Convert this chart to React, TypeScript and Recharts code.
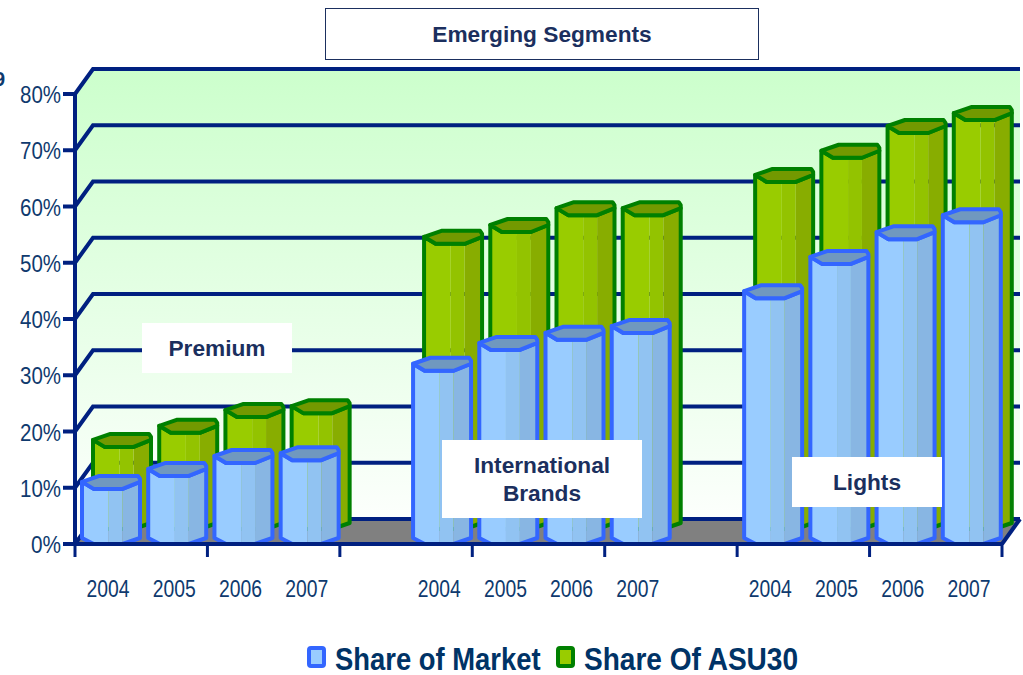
import React from 'react';
import {
  BarChart,
  Bar,
  XAxis,
  YAxis,
  CartesianGrid,
  Legend,
  ReferenceArea,
} from 'recharts';

const YEARS = ['2004', '2005', '2006', '2007', '', '2004', '2005', '2006', '2007', '', '2004', '2005', '2006', '2007'];
const SHARE_OF_MARKET = [9.8, 12.1, 14.4, 14.9, null, 30.8, 34.5, 36.3, 37.5, null, 43.7, 49.8, 54.2, 57.2];
const SHARE_OF_ASU30 = [14.6, 17.1, 19.9, 20.6, null, 50.7, 52.8, 55.8, 55.8, null, 61.7, 66.0, 70.4, 72.7];
const Y_TICKS = [0, 10, 20, 30, 40, 50, 60, 70, 80];

const chartData = YEARS.map((year, i) => ({
  year,
  market: SHARE_OF_MARKET[i],
  asu30: SHARE_OF_ASU30[i],
}));

const NAVY = '#002080';
const TEXT = '#0f3a6e';
const DEPTH_X = 18;
const DEPTH_Y = 25;
const SLOT_W = 927 / 14;

const BLUE = { stroke: '#3366ff', strips: ['#99ccff', '#91c3f2', '#88b6e3'], cap: '#7098bf' };
const GREEN = { stroke: '#008000', strips: ['#99cc00', '#93c300', '#88ad00'], cap: '#739900' };

// fake 3D wall + floor, drawn behind everything
const Wall = ({ x, y, width, height }: any) => {
  const bottom = y + height;
  const right = x + width;
  return (
    <g>
      <defs>
        <linearGradient id="wallFill" x1="0" y1="0" x2="0" y2="1">
          <stop offset="0%" stopColor="#ccffcc" />
          <stop offset="100%" stopColor="#ffffff" />
        </linearGradient>
      </defs>
      <path
        d={`M${x},${y} L${x + DEPTH_X},${y - DEPTH_Y} L${right + DEPTH_X},${y - DEPTH_Y} L${right + DEPTH_X},${bottom - DEPTH_Y} L${x + DEPTH_X},${bottom - DEPTH_Y} L${x},${bottom} Z`}
        fill="url(#wallFill)"
      />
      <path
        d={`M${x},${bottom} L${x + DEPTH_X},${bottom - DEPTH_Y} L${right + DEPTH_X},${bottom - DEPTH_Y} L${right},${bottom} Z`}
        fill="#808080"
      />
    </g>
  );
};

const GridLine = ({ x1, y1, x2 }: any) => (
  <path
    d={`M${x1},${y1} L${x1 + DEPTH_X},${y1 - DEPTH_Y} L${x2 + DEPTH_X},${y1 - DEPTH_Y}`}
    fill="none"
    stroke={NAVY}
    strokeWidth={4}
  />
);

const Column = ({ x, y, width, height, colors, dx, dy }: any) => {
  if (!height || height <= 0) return null;
  const left = x + dx;
  const top = y + dy;
  const base = y + height + dy;
  const w = width;
  const fl = left + w * 0.2;
  const fr = left + w * 0.7;
  const mid = left + w * 0.46;
  const r = left + w;
  return (
    <g>
      <path
        d={`M${left},${top - 7} L${fl},${top} L${mid},${top} L${mid},${base} L${fl},${base} L${left},${base - 6} Z`}
        fill={colors.strips[0]}
      />
      <rect x={mid} y={top} width={fr - mid} height={base - top} fill={colors.strips[1]} />
      <path
        d={`M${fr},${top} L${r},${top - 7} L${r},${base - 6} L${fr},${base} Z`}
        fill={colors.strips[2]}
      />
      <path
        d={`M${left},${top - 7} L${fl},${top} L${fr},${top} L${r},${top - 7} L${r},${base - 6} L${fr},${base} L${fl},${base} L${left},${base - 6} Z`}
        fill="none"
        stroke={colors.stroke}
        strokeWidth={4}
        strokeLinejoin="round"
      />
      <path
        d={`M${left},${top - 7} L${left + w * 0.3},${top - 13} L${r - 2},${top - 13} L${r},${top - 10} L${r},${top - 7} L${fr},${top} L${fl},${top} Z`}
        fill={colors.cap}
        stroke={colors.stroke}
        strokeWidth={4}
        strokeLinejoin="round"
      />
    </g>
  );
};

const YTick = ({ x, y, payload }: any) => (
  <text
    x={x}
    y={y + 9}
    textAnchor="end"
    fontFamily="Liberation Sans"
    fontSize={24}
    fill={TEXT}
    textLength={payload.value === 0 ? 30 : 41}
    lengthAdjust="spacingAndGlyphs"
  >
    {`${payload.value}%`}
  </text>
);

const XTick = ({ x, index }: any) => {
  const tickTop = 544;
  return (
    <g>
      {index % 2 === 0 && (
        <line x1={x - SLOT_W / 2} x2={x - SLOT_W / 2} y1={tickTop} y2={tickTop + 13} stroke={NAVY} strokeWidth={3} />
      )}
      {index === YEARS.length - 1 && (
        <g>
          <line x1={x + SLOT_W / 2} x2={x + SLOT_W / 2} y1={tickTop} y2={tickTop + 13} stroke={NAVY} strokeWidth={3} />
          <line
            x1={x + SLOT_W / 2}
            x2={x + SLOT_W / 2 + DEPTH_X}
            y1={tickTop}
            y2={tickTop - DEPTH_Y}
            stroke={NAVY}
            strokeWidth={4}
          />
        </g>
      )}
      {YEARS[index] !== '' && (
        <text
          x={x}
          y={597}
          textAnchor="middle"
          fontFamily="Liberation Sans"
          fontSize={24}
          fill={TEXT}
          textLength={43}
          lengthAdjust="spacingAndGlyphs"
        >
          {YEARS[index]}
        </text>
      )}
    </g>
  );
};

// squeezed with a transform, the original legend text is condensed
const LegendKey = ({ colors, label, x, squeeze }: any) => (
  <g>
    <rect x={x + 2} y={6} width={15} height={18} rx={2} fill={colors.strips[0]} stroke={colors.stroke} strokeWidth={4} />
    <text
      transform={`translate(${x + 28},28) scale(${squeeze},1)`}
      fontFamily="Liberation Sans"
      fontWeight="bold"
      fontSize={32}
      fill="#003366"
    >
      {label}
    </text>
  </g>
);

const ChartLegend = () => (
  <svg width={560} height={36} style={{ display: 'block' }}>
    <LegendKey colors={BLUE} label="Share of Market" x={0} squeeze={0.857} />
    <LegendKey colors={GREEN} label="Share Of ASU30" x={249} squeeze={0.877} />
  </svg>
);

const boxStyle: React.CSSProperties = {
  position: 'absolute',
  background: '#ffffff',
  display: 'flex',
  alignItems: 'center',
  justifyContent: 'center',
  textAlign: 'center',
  fontFamily: 'Liberation Sans',
  fontWeight: 'bold',
  fontSize: 22.7,
  lineHeight: '28px',
  color: '#1b2f5e',
};

export default function App() {
  return (
    <div style={{ position: 'absolute', left: 0, top: 0, width: 1023, height: 675, overflow: 'hidden', background: '#fff' }}>
      <BarChart
        width={1023}
        height={675}
        data={chartData}
        margin={{ top: 94, right: 21, bottom: 0, left: 0 }}
        barSize={58}
        barGap={-58}
        barCategoryGap={0}
      >
        <ReferenceArea y1={0} y2={80} shape={<Wall />} ifOverflow="visible" zIndex={-200} />
        <CartesianGrid vertical={false} horizontal={(p: any) => <GridLine key={p.key} {...p} />} />
        <XAxis
          dataKey="year"
          height={131}
          interval={0}
          axisLine={{ stroke: NAVY, strokeWidth: 4 }}
          tickLine={false}
          tick={<XTick />}
        />
        <YAxis
          width={75}
          domain={[0, 80]}
          ticks={Y_TICKS}
          interval={0}
          tickSize={12}
          axisLine={{ stroke: NAVY, strokeWidth: 4 }}
          tickLine={{ stroke: NAVY, strokeWidth: 4 }}
          tick={<YTick />}
        />
        <Bar
          dataKey="asu30"
          name="Share Of ASU30"
          isAnimationActive={false}
          shape={(p: any) => <Column {...p} colors={GREEN} dx={14} dy={-15} />}
        />
        <Bar
          dataKey="market"
          name="Share of Market"
          isAnimationActive={false}
          shape={(p: any) => <Column {...p} colors={BLUE} dx={3} dy={0} />}
        />
        <Legend
          verticalAlign="middle"
          layout="horizontal"
          content={<ChartLegend />}
          wrapperStyle={{ top: 642, left: 307, width: 560, height: 36 }}
        />
      </BarChart>

      <div style={{ ...boxStyle, left: 325, top: 8, width: 432, height: 50, border: '1px solid #1b2f5e' }}>Emerging Segments</div>
      <div style={{ ...boxStyle, left: 142, top: 323, width: 150, height: 50 }}>Premium</div>
      <div style={{ ...boxStyle, left: 442, top: 440, width: 200, height: 78 }}>
        International
        <br />
        Brands
      </div>
      <div style={{ ...boxStyle, left: 792, top: 457, width: 150, height: 50 }}>Lights</div>
      <div style={{ position: 'absolute', left: -6, top: 68, fontFamily: 'Liberation Sans', fontWeight: 'bold', fontSize: 20, color: '#0f3a6e' }}>9</div>
    </div>
  );
}
